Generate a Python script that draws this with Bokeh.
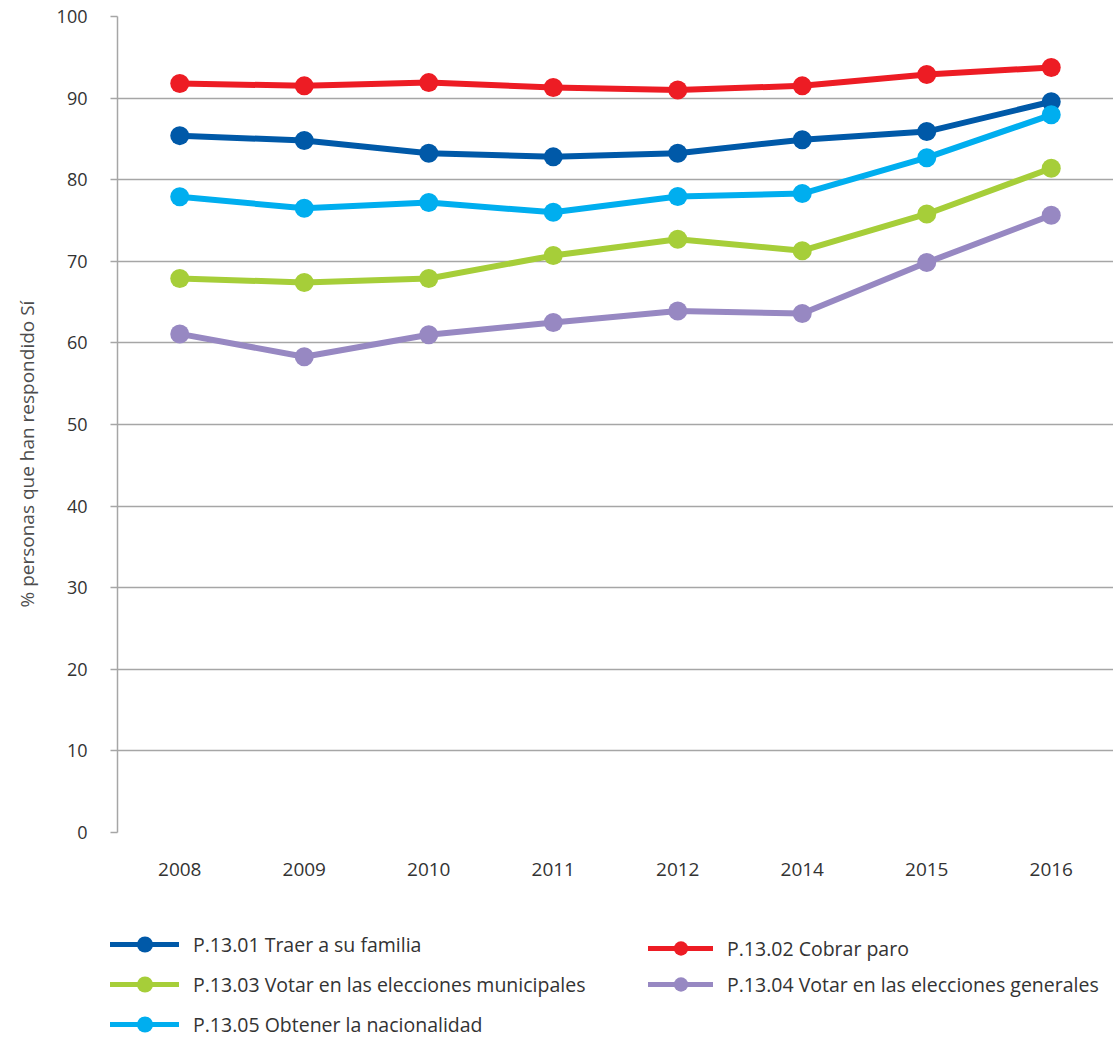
from bokeh.plotting import figure
from bokeh.models import (ColumnDataSource, FactorRange, FixedTicker, Legend,
                          LegendItem, Range1d, Title)
from bokeh.embed import file_html
from bokeh.resources import INLINE

# ---- data ----
years = ["2008", "2009", "2010", "2011", "2012", "2014", "2015", "2016"]
traer_familia = [85.4, 84.8, 83.25, 82.8, 83.25, 84.9, 85.9, 89.55]
cobrar_paro = [91.8, 91.5, 91.9, 91.3, 91.0, 91.5, 92.9, 93.75]
votar_municipales = [67.9, 67.4, 67.9, 70.7, 72.7, 71.3, 75.8, 81.4]
votar_generales = [61.1, 58.3, 61.0, 62.5, 63.9, 63.6, 69.85, 75.65]
obtener_nacionalidad = [77.9, 76.5, 77.2, 76.0, 77.95, 78.3, 82.7, 87.95]
y_ticks = [0, 10, 20, 30, 40, 50, 60, 70, 80, 90, 100]

label_01 = "P.13.01 Traer a su familia"
label_02 = "P.13.02 Cobrar paro"
label_03 = "P.13.03 Votar en las elecciones municipales"
label_04 = "P.13.04 Votar en las elecciones generales"
label_05 = "P.13.05 Obtener la nacionalidad"
y_title = "% personas que han respondido Sí"

FONT = "Open Sans"
YTICK_FS = "18px"
XTICK_FS = "19px"
LEG_FS = "19.5px"
GRID = "#a6a6a6"
TXT = "#333333"

colors = {"s01": "#0059a8", "s02": "#ed1c24", "s03": "#a6ce39",
          "s04": "#9788c2", "s05": "#00aeef"}
order = ["s01", "s02", "s03", "s04", "s05"]

source = ColumnDataSource(dict(
    year=years,
    s01=traer_familia,
    s02=cobrar_paro,
    s03=votar_municipales,
    s04=votar_generales,
    s05=obtener_nacionalidad,
))

# ---------------- main chart ----------------
p = figure(
    width=1113, height=900,
    x_range=FactorRange(*years, range_padding=0),
    y_range=Range1d(0, 100),
    output_backend="svg", toolbar_location=None,
    min_border_left=117, min_border_right=0,
    min_border_top=16, min_border_bottom=68,
)
p.outline_line_color = None
p.background_fill_color = "white"
p.border_fill_color = "white"

p.xgrid.grid_line_color = None
p.ygrid.grid_line_color = GRID
p.ygrid.grid_line_width = 1.5

yax = p.yaxis[0]
yax.ticker = FixedTicker(ticks=y_ticks)
yax.axis_line_color = GRID
yax.axis_line_width = 1.5
yax.minor_tick_line_color = None
yax.major_tick_in = 0
yax.major_tick_out = 7
yax.major_tick_line_color = GRID
yax.major_tick_line_width = 1.5
yax.major_label_standoff = 23
yax.major_label_text_font = FONT
yax.major_label_text_font_size = YTICK_FS
yax.major_label_text_color = TXT

# y-axis title, placed along the left side like the original
ytitle = Title(text=y_title, align="left", offset=225, vertical_align="top",
               standoff=24, text_font=FONT, text_font_size="19px",
               text_font_style="normal", text_color="#4d4d4d")
p.add_layout(ytitle, "left")

xax = p.xaxis[0]
xax.axis_line_color = None
xax.major_tick_line_color = None
xax.minor_tick_line_color = None
xax.major_tick_out = 0
xax.major_tick_in = 0
xax.major_label_standoff = 30
xax.major_label_text_font = FONT
xax.major_label_text_font_size = XTICK_FS
xax.major_label_text_color = TXT

for key in order:
    c = colors[key]
    p.line(x="year", y=key, source=source, line_color=c, line_width=6,
           line_cap="round", line_join="round")
    p.scatter(x="year", y=key, source=source, marker="circle", size=19,
              fill_color=c, line_color=c, line_width=0)

# ---------------- legend strip ----------------
lg = figure(width=1113, height=136, x_range=Range1d(0, 1), y_range=Range1d(0, 1),
            output_backend="svg", toolbar_location=None,
            x_axis_location=None, y_axis_location=None,
            min_border=0)
lg.grid.visible = False
lg.outline_line_color = None
lg.background_fill_color = "white"
lg.border_fill_color = "white"

nan = float("nan")
leg_r = {}
for key in order:
    c = colors[key]
    ln = lg.line(x=[nan], y=[nan], line_color=c, line_width=5, line_cap="round")
    sc = lg.scatter(x=[nan], y=[nan], marker="circle", fill_color=c,
                    line_color=c, line_width=0)
    leg_r[key] = [ln, sc]

common = dict(
    padding=0, margin=0, spacing=0,
    border_line_color=None, background_fill_alpha=0,
    label_text_font=FONT, label_text_font_size=LEG_FS, label_text_color=TXT,
    label_standoff=14, orientation="vertical",
)
leg1 = Legend(items=[LegendItem(label=label_01, renderers=leg_r["s01"]),
                     LegendItem(label=label_03, renderers=leg_r["s03"]),
                     LegendItem(label=label_05, renderers=leg_r["s05"])],
              location=(110, -8), glyph_width=69, glyph_height=40,
              label_height=40, **common)
leg2 = Legend(items=[LegendItem(label=label_02, renderers=leg_r["s02"]),
                     LegendItem(label=label_04, renderers=leg_r["s04"])],
              location=(648, 34), glyph_width=65, glyph_height=36,
              label_height=36, **common)
lg.add_layout(leg1)
lg.add_layout(leg2)

open("out.html", "w").write(file_html((p, lg), INLINE))
